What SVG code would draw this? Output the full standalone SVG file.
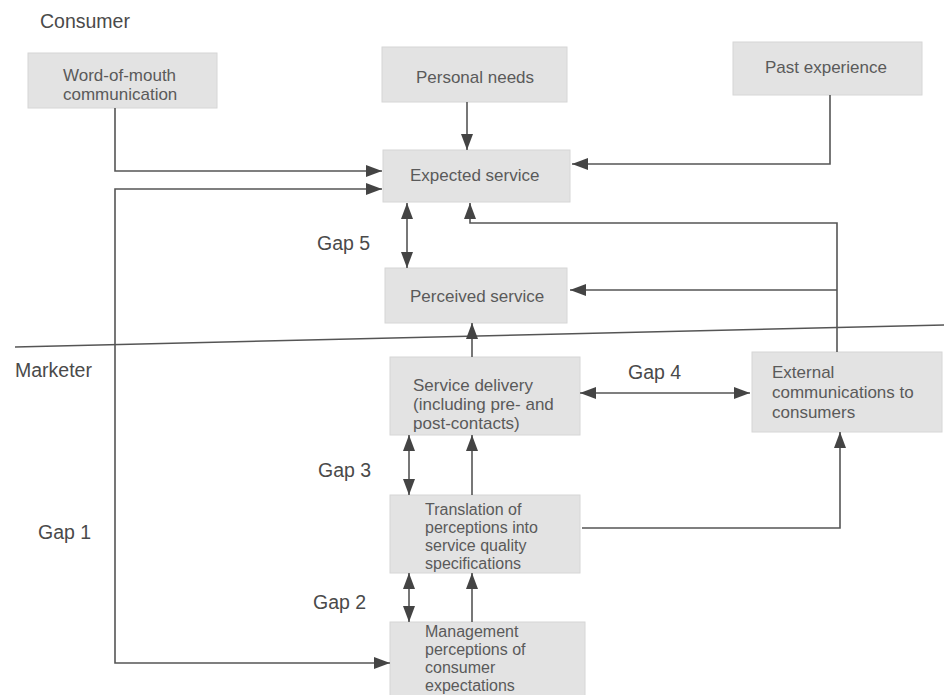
<svg xmlns="http://www.w3.org/2000/svg" width="944" height="695" viewBox="0 0 944 695">
<style>
.box{fill:#e3e3e3;stroke:#d6d6d6;stroke-width:1}
.bt{font-family:"Liberation Sans",Arial,sans-serif;font-size:17px;fill:#5a5a5a}
.bs{font-size:16px}
.lb{font-family:"Liberation Sans",Arial,sans-serif;font-size:19.5px;fill:#4a4a4a}
.cn{fill:none;stroke:#555;stroke-width:1.6}
</style>
<defs>
<marker id="ah" markerUnits="userSpaceOnUse" markerWidth="17" markerHeight="12" refX="16" refY="6" orient="auto-start-reverse" viewBox="0 0 17 12">
<path d="M0,0 L16,6 L0,12 Z" fill="#444"/>
</marker>
</defs>
<rect width="944" height="695" fill="#fff"/>
<text class="lb" x="40" y="28">Consumer</text>
<text class="lb" x="15" y="377">Marketer</text>
<line x1="15" y1="347" x2="944" y2="325" stroke="#555" stroke-width="1.5"/>
<g id="wom"><rect class="box" x="28" y="53" width="189" height="55"/><text class="bt" x="63" y="81">Word-of-mouth</text><text class="bt" x="63" y="100">communication</text></g>
<g id="personal-needs"><rect class="box" x="382" y="47" width="185" height="55"/><text class="bt" x="475" y="83" text-anchor="middle">Personal needs</text></g>
<g id="past-experience"><rect class="box" x="733" y="42" width="189" height="53"/><text class="bt" x="765" y="73">Past experience</text></g>
<g id="expected-service"><rect class="box" x="383" y="150" width="187" height="52"/><text class="bt" x="410" y="181">Expected service</text></g>
<g id="perceived-service"><rect class="box" x="385" y="268" width="182" height="55"/><text class="bt" x="410" y="302">Perceived service</text></g>
<g id="service-delivery"><rect class="box" x="390" y="357" width="190" height="78"/><text class="bt" x="413" y="391">Service delivery</text><text class="bt" x="413" y="410">(including pre- and</text><text class="bt" x="413" y="429">post-contacts)</text></g>
<g id="external-communications"><rect class="box" x="752" y="352" width="190" height="80"/><text class="bt" x="772" y="378">External</text><text class="bt" x="772" y="398">communications to</text><text class="bt" x="772" y="418">consumers</text></g>
<g id="translation"><rect class="box" x="390" y="495" width="190" height="78"/><text class="bt bs" x="425" y="515">Translation of</text><text class="bt bs" x="425" y="533">perceptions into</text><text class="bt bs" x="425" y="551">service quality</text><text class="bt bs" x="425" y="569">specifications</text></g>
<g id="management"><rect class="box" x="390" y="622" width="195" height="80"/><text class="bt bs" x="425" y="637">Management</text><text class="bt bs" x="425" y="655">perceptions of</text><text class="bt bs" x="425" y="673">consumer</text><text class="bt bs" x="425" y="691">expectations</text></g>
<g id="labels">
<text class="lb" x="317" y="250">Gap 5</text>
<text class="lb" x="628" y="379">Gap 4</text>
<text class="lb" x="318" y="477">Gap 3</text>
<text class="lb" x="38" y="539">Gap 1</text>
<text class="lb" x="313" y="609">Gap 2</text>
</g>
<g id="connectors">
<path class="cn" d="M115,108 V171 H382" marker-end="url(#ah)"/>
<path class="cn" d="M382,189 H115 V663 H390" marker-start="url(#ah)" marker-end="url(#ah)"/>
<path class="cn" d="M467,102 V150" marker-end="url(#ah)"/>
<path class="cn" d="M830,95 V164 H572" marker-end="url(#ah)"/>
<path class="cn" d="M407,203 V268" marker-start="url(#ah)" marker-end="url(#ah)"/>
<path class="cn" d="M837,352 V223 H470 V203" marker-end="url(#ah)"/>
<path class="cn" d="M837,290 H570" marker-end="url(#ah)"/>
<path class="cn" d="M472,357 V323" marker-end="url(#ah)"/>
<path class="cn" d="M580,393 H750" marker-start="url(#ah)" marker-end="url(#ah)"/>
<path class="cn" d="M409,435 V495" marker-start="url(#ah)" marker-end="url(#ah)"/>
<path class="cn" d="M472,495 V435" marker-end="url(#ah)"/>
<path class="cn" d="M582,528 H840 V432" marker-end="url(#ah)"/>
<path class="cn" d="M409,573 V622" marker-start="url(#ah)" marker-end="url(#ah)"/>
<path class="cn" d="M472,622 V573" marker-end="url(#ah)"/>
</g>
</svg>
